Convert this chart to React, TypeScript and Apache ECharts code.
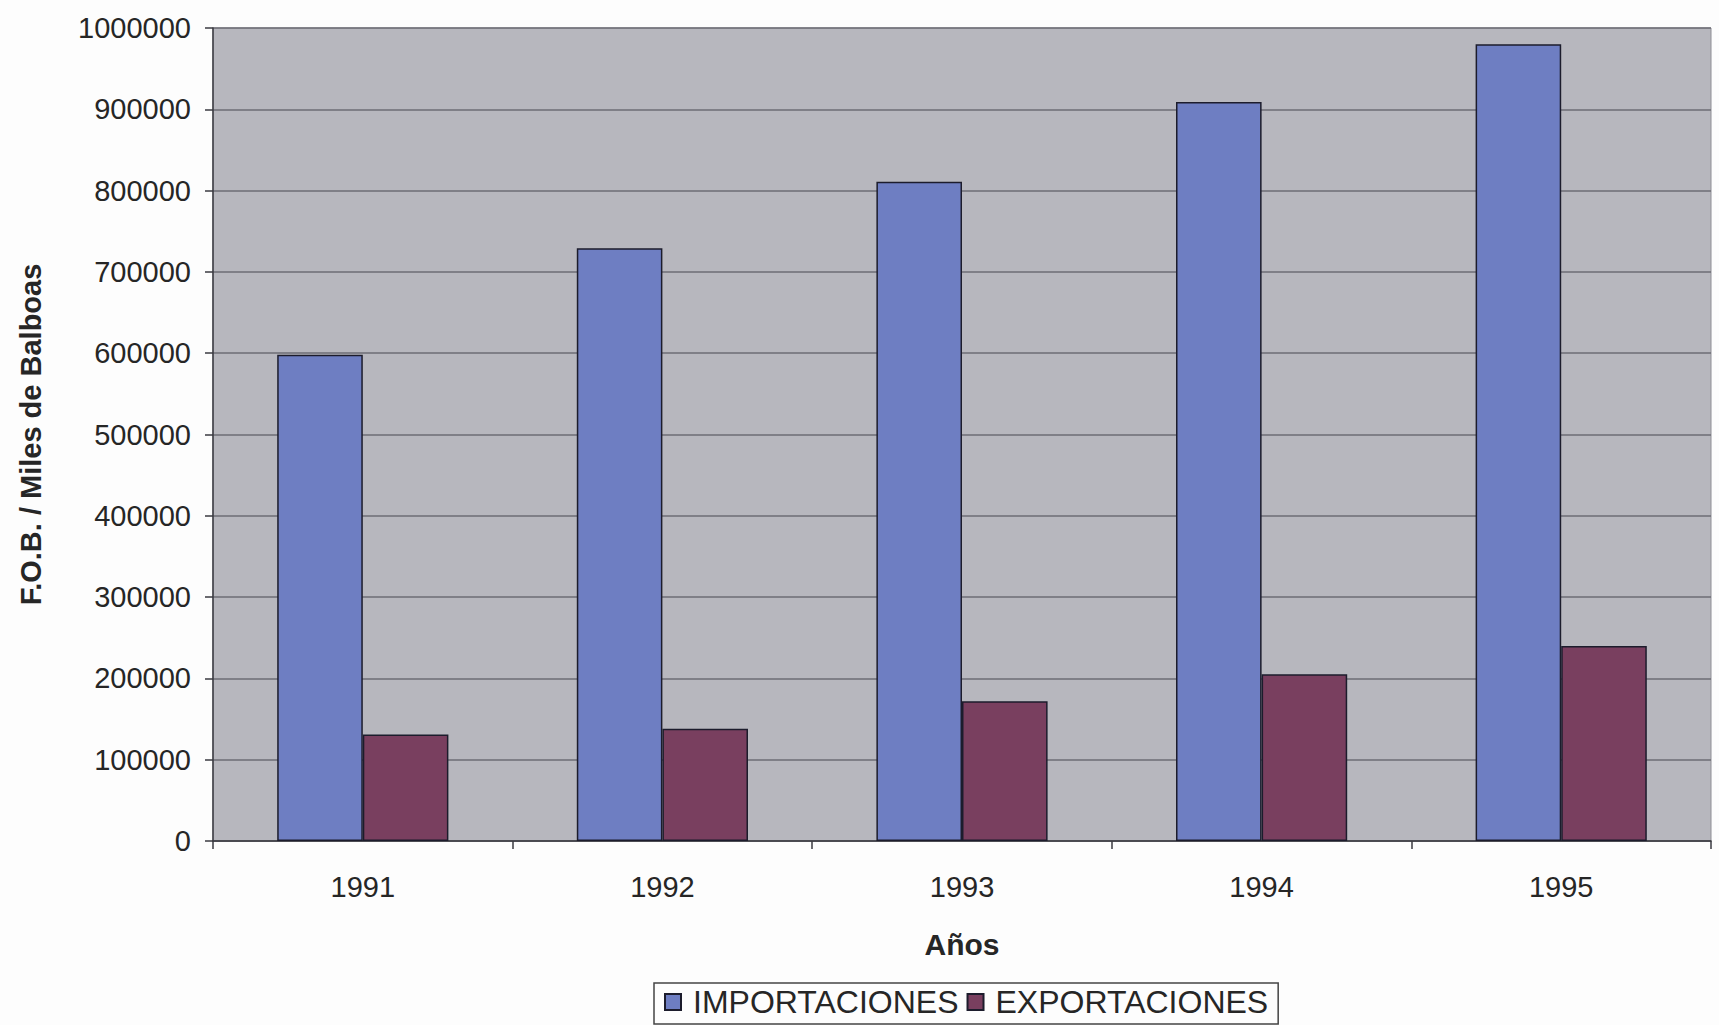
import React, { useEffect, useRef } from "react";
import * as echarts from "echarts";

const years = ["1991", "1992", "1993", "1994", "1995"];
const importaciones = [598000, 729000, 811000, 909000, 980000];
const exportaciones = [131000, 138000, 172000, 205000, 240000];
const seriesNames = ["IMPORTACIONES", "EXPORTACIONES"];
const yMin = 0;
const yMax = 1000000;
const yStep = 100000;

const FONT = "'Liberation Sans', Arial, sans-serif";

export default function App() {
  const ref = useRef<HTMLDivElement>(null);

  useEffect(() => {
    if (!ref.current) return;
    const chart = echarts.init(ref.current, undefined, { renderer: "svg" });
    chart.setOption({
      animation: false,
      backgroundColor: "#fdfdfd",
      textStyle: { fontFamily: FONT, color: "#262626" },
      grid: {
        left: 213,
        right: 8,
        top: 28,
        bottom: 184,
        show: true,
        backgroundColor: "#b7b7be",
        borderColor: "#8e8e95",
        borderWidth: 1,
      },
      legend: {
        data: seriesNames,
        left: 654,
        top: 983,
        orient: "horizontal",
        icon: "rect",
        padding: [3, 10, 6, 10],
        itemWidth: 16,
        itemHeight: 16,
        itemGap: 8,
        borderColor: "#444",
        borderWidth: 1.5,
        backgroundColor: "#fdfdfd",
        textStyle: {
          fontFamily: FONT,
          fontSize: 32,
          color: "#262626",
          padding: [0, 0, 0, 7],
        },
      },
      xAxis: {
        type: "category",
        data: years,
        name: "Años",
        nameLocation: "middle",
        nameGap: 88,
        nameTextStyle: { fontFamily: FONT, fontSize: 30, fontWeight: "bold", color: "#262626" },
        axisLine: { show: true, lineStyle: { color: "#3a3a40", width: 1.5 } },
        axisTick: { show: true, length: 8, lineStyle: { color: "#3a3a40", width: 1.5 } },
        axisLabel: { fontFamily: FONT, fontSize: 29, color: "#262626", margin: 31 },
      },
      yAxis: {
        type: "value",
        min: yMin,
        max: yMax,
        interval: yStep,
        name: "F.O.B. / Miles de Balboas",
        nameLocation: "middle",
        nameGap: 168,
        nameRotate: 90,
        nameTextStyle: { fontFamily: FONT, fontSize: 29, fontWeight: "bold", color: "#262626" },
        axisLine: { show: true, lineStyle: { color: "#3a3a40", width: 1.5 } },
        axisTick: { show: true, length: 8, lineStyle: { color: "#3a3a40", width: 1.5 } },
        axisLabel: {
          fontFamily: FONT,
          fontSize: 29,
          color: "#262626",
          margin: 22,
          formatter: (v: number) => String(v),
        },
        splitLine: { show: true, lineStyle: { color: "#6c6c74", width: 1.5 } },
      },
      series: [
        {
          name: seriesNames[0],
          type: "bar",
          data: importaciones,
          barGap: "0%",
          barCategoryGap: "42.86%",
          itemStyle: { color: "#6e7ec2", borderColor: "#1c1c2c", borderWidth: 1.5 },
        },
        {
          name: seriesNames[1],
          type: "bar",
          data: exportaciones,
          barGap: "0%",
          barCategoryGap: "42.86%",
          itemStyle: { color: "#793f5f", borderColor: "#1c1c2c", borderWidth: 1.5 },
        },
      ],
    });
    return () => chart.dispose();
  }, []);

  return (
    <div
      ref={ref}
      style={{ position: "fixed", left: 0, top: 0, width: 1719, height: 1025 }}
    />
  );
}
